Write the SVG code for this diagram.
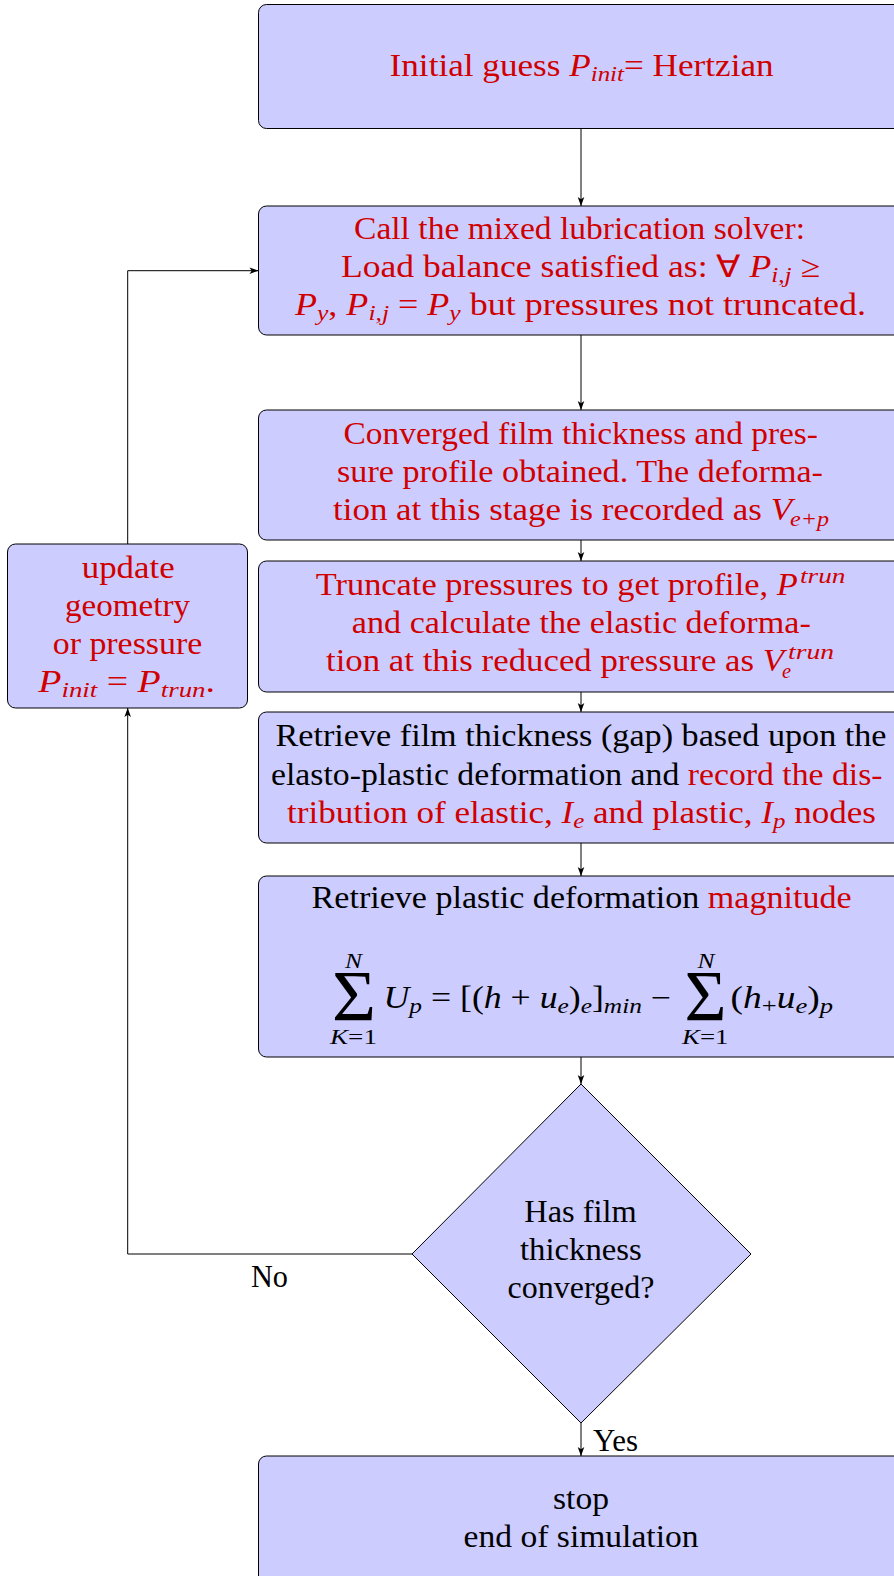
<svg xmlns="http://www.w3.org/2000/svg" width="894" height="1576" viewBox="0 0 894 1576">
<style>
.box{fill:#ccccff;stroke:#000;stroke-width:1}
.t{font-family:"Liberation Serif","Times New Roman",serif;font-size:31px;fill:#000}
.r{fill:#d00000}
.i{font-style:italic}
.s{font-size:22px}
.c{fill:none;stroke:#000;stroke-width:1}
</style>
<defs>
<marker id="ah" viewBox="-10 -5 11 10" refX="0" refY="0" markerWidth="11" markerHeight="10" markerUnits="userSpaceOnUse" orient="auto">
<path d="M0,0 L-9,-3.3 L-6.8,0 L-9,3.3 Z" fill="#000"/>
</marker>
</defs>

<g id="connectors">
<path class="c" d="M581,129 V206" marker-end="url(#ah)"/>
<path class="c" d="M581,335 V410" marker-end="url(#ah)"/>
<path class="c" d="M581,540 V561" marker-end="url(#ah)"/>
<path class="c" d="M581,692 V712" marker-end="url(#ah)"/>
<path class="c" d="M581,843 V876" marker-end="url(#ah)"/>
<path class="c" d="M581,1057 V1084" marker-end="url(#ah)"/>
<path class="c" d="M581,1423 V1456" marker-end="url(#ah)"/>
<path class="c" d="M412,1254 H127.7 V708" marker-end="url(#ah)"/>
<path class="c" d="M127.7,544 V270.7 H258.5" marker-end="url(#ah)"/>
<text class="t" x="251" y="1287" textLength="37" lengthAdjust="spacingAndGlyphs">No</text>
<text class="t" x="593" y="1450.5" textLength="45" lengthAdjust="spacingAndGlyphs">Yes</text>
</g>

<g id="n1">
<rect class="box" x="258.5" y="4.5" width="646" height="124" rx="8"/>
<text class="t r" x="389.6" y="76" textLength="384" lengthAdjust="spacingAndGlyphs">Initial guess <tspan class="i">P</tspan><tspan class="i s" dy="5">init</tspan><tspan dy="-5">= Hertzian</tspan></text>
</g>

<g id="n2">
<rect class="box" x="258.5" y="206" width="646" height="129" rx="8"/>
<text class="t r" x="354" y="239" textLength="451" lengthAdjust="spacingAndGlyphs">Call the mixed lubrication solver:</text>
<text class="t r" x="341" y="277" textLength="479" lengthAdjust="spacingAndGlyphs">Load balance satisfied as: ∀ <tspan class="i">P</tspan><tspan class="i s" dy="5">i,j</tspan><tspan dy="-5">  ≥</tspan></text>
<text class="t r" x="295" y="315" textLength="571" lengthAdjust="spacingAndGlyphs"><tspan class="i">P</tspan><tspan class="i s" dy="5">y</tspan><tspan dy="-5">, </tspan><tspan class="i">P</tspan><tspan class="i s" dy="5">i,j</tspan><tspan dy="-5"> = </tspan><tspan class="i">P</tspan><tspan class="i s" dy="5">y</tspan><tspan dy="-5"> but pressures not truncated.</tspan></text>
</g>

<g id="n3">
<rect class="box" x="258.5" y="410" width="646" height="130" rx="8"/>
<text class="t r" x="343.6" y="444" textLength="474.4" lengthAdjust="spacingAndGlyphs">Converged film thickness and pres-</text>
<text class="t r" x="337" y="482" textLength="486" lengthAdjust="spacingAndGlyphs">sure profile obtained.  The deforma-</text>
<text class="t r" x="333" y="519.5" textLength="459" lengthAdjust="spacingAndGlyphs">tion at this stage is recorded as <tspan class="i">V</tspan></text>
<text class="t r i s" x="790" y="525.5" textLength="39" lengthAdjust="spacingAndGlyphs">e+p</text>
</g>

<g id="n4">
<rect class="box" x="258.5" y="561" width="646" height="131" rx="8"/>
<text class="t r" x="315.7" y="595" textLength="482" lengthAdjust="spacingAndGlyphs">Truncate pressures to get profile, <tspan class="i">P</tspan></text>
<text class="t r i s" x="800" y="583" textLength="45.5" lengthAdjust="spacingAndGlyphs">trun</text>
<text class="t r" x="351.8" y="633" textLength="459" lengthAdjust="spacingAndGlyphs">and calculate the elastic deforma-</text>
<text class="t r" x="326" y="671" textLength="458" lengthAdjust="spacingAndGlyphs">tion at this reduced pressure as <tspan class="i">V</tspan></text>
<text class="t r i s" x="782" y="678" textLength="9" lengthAdjust="spacingAndGlyphs">e</text>
<text class="t r i s" x="788" y="659" textLength="46" lengthAdjust="spacingAndGlyphs">trun</text>
</g>

<g id="n5">
<rect class="box" x="258.5" y="712" width="646" height="131" rx="8"/>
<text class="t" x="275.5" y="746" textLength="611" lengthAdjust="spacingAndGlyphs">Retrieve film thickness (gap) based upon the</text>
<text class="t" x="271" y="784.5" textLength="611.5" lengthAdjust="spacingAndGlyphs">elasto-plastic deformation and <tspan class="r">record the dis-</tspan></text>
<text class="t r" x="287" y="822.5" textLength="589" lengthAdjust="spacingAndGlyphs">tribution of elastic, <tspan class="i">I</tspan><tspan class="i s" dy="5">e</tspan><tspan dy="-5"> and plastic, </tspan><tspan class="i">I</tspan><tspan class="i s" dy="5">p</tspan><tspan dy="-5"> nodes</tspan></text>
</g>

<g id="n6">
<rect class="box" x="258.5" y="876" width="646" height="181" rx="8"/>
<text class="t" x="311.6" y="908" textLength="540" lengthAdjust="spacingAndGlyphs">Retrieve plastic deformation <tspan class="r">magnitude</tspan></text>
<text class="t" x="332" y="1020" font-size="72" textLength="44" lengthAdjust="spacingAndGlyphs" style="font-size:72px">Σ</text>
<text class="t i s" x="345" y="967.5" textLength="17" lengthAdjust="spacingAndGlyphs">N</text>
<text class="t s" x="330" y="1044" textLength="47" lengthAdjust="spacingAndGlyphs"><tspan class="i">K</tspan>=1</text>
<text class="t" x="383.5" y="1008" textLength="287.5" lengthAdjust="spacingAndGlyphs"><tspan class="i">U</tspan><tspan class="i s" dy="5">p</tspan><tspan dy="-5"> = [(</tspan><tspan class="i">h</tspan> + <tspan class="i">u</tspan><tspan class="i s" dy="5">e</tspan><tspan dy="-5">)</tspan><tspan class="i s" dy="5">e</tspan><tspan dy="-5">]</tspan><tspan class="i s" dy="5">min</tspan><tspan dy="-5"> −</tspan></text>
<text class="t" x="684.5" y="1020" textLength="42" lengthAdjust="spacingAndGlyphs" style="font-size:72px">Σ</text>
<text class="t i s" x="697.6" y="967.5" textLength="17" lengthAdjust="spacingAndGlyphs">N</text>
<text class="t s" x="682" y="1044" textLength="46.5" lengthAdjust="spacingAndGlyphs"><tspan class="i">K</tspan>=1</text>
<text class="t" x="730.5" y="1008" textLength="102.5" lengthAdjust="spacingAndGlyphs">(<tspan class="i">h</tspan><tspan class="s" dy="5">+</tspan><tspan class="i" dy="-5">u</tspan><tspan class="i s" dy="5">e</tspan><tspan dy="-5">)</tspan><tspan class="i s" dy="5">p</tspan></text>
</g>

<g id="n7">
<rect class="box" x="7.5" y="544" width="240" height="164" rx="8"/>
<text class="t r" x="81.7" y="578" textLength="93" lengthAdjust="spacingAndGlyphs">update</text>
<text class="t r" x="65" y="616" textLength="125" lengthAdjust="spacingAndGlyphs">geometry</text>
<text class="t r" x="52.7" y="654" textLength="149.6" lengthAdjust="spacingAndGlyphs">or pressure</text>
<text class="t r" x="38.3" y="692" textLength="176.7" lengthAdjust="spacingAndGlyphs"><tspan class="i">P</tspan><tspan class="i s" dy="5">init</tspan><tspan dy="-5"> = </tspan><tspan class="i">P</tspan><tspan class="i s" dy="5">trun</tspan><tspan dy="-5">.</tspan></text>
</g>

<g id="n8">
<polygon class="box" points="581,1084 751,1254 581,1423 412,1254"/>
<text class="t" x="524.3" y="1222" textLength="112.4" lengthAdjust="spacingAndGlyphs">Has film</text>
<text class="t" x="520" y="1260" textLength="121.8" lengthAdjust="spacingAndGlyphs">thickness</text>
<text class="t" x="507.6" y="1298" textLength="146.8" lengthAdjust="spacingAndGlyphs">converged?</text>
</g>

<g id="n9">
<rect class="box" x="258.5" y="1456" width="646" height="130" rx="8"/>
<text class="t" x="553" y="1509" textLength="56" lengthAdjust="spacingAndGlyphs">stop</text>
<text class="t" x="463.6" y="1547" textLength="235" lengthAdjust="spacingAndGlyphs">end of simulation</text>
</g>
</svg>
